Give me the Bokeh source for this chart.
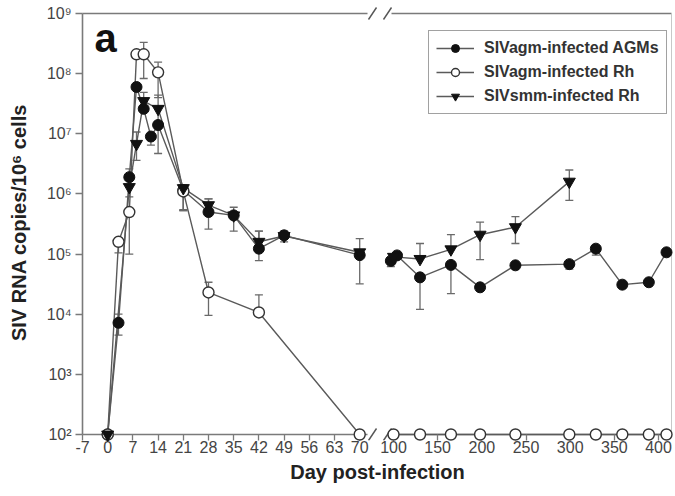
import numpy as np
from bokeh.plotting import figure
from bokeh.models import (ColumnDataSource, Range1d, FixedTicker, CustomJSTickFormatter,
                          Whisker, TeeHead, Legend, LegendItem, Label)
from bokeh.embed import file_html
from bokeh.resources import INLINE

# ---------------- data ----------------
x_ticks_left = [-7, 0, 7, 14, 21, 28, 35, 42, 49, 56, 63, 70]
x_ticks_right = [100, 150, 200, 250, 300, 350, 400]
y_ticks = [1e2, 1e3, 1e4, 1e5, 1e6, 1e7, 1e8, 1e9]

# SIVagm-infected AGMs (filled circles)
agm_day = [0, 3, 6, 8, 10, 12, 14, 21, 28, 35, 42, 49, 70,
           97, 104, 130, 165, 198, 238, 299, 329, 359, 389, 409]
agm_val = [1e2, 7.2e3, 1.9e6, 6.0e7, 2.6e7, 9.0e6, 1.4e7, 1.15e6, 5.0e5, 4.4e5, 1.23e5, 2.05e5, 9.6e4,
           7.7e4, 9.5e4, 4.1e4, 6.6e4, 2.8e4, 6.5e4, 6.8e4, 1.23e5, 3.1e4, 3.4e4, 1.07e5]
agm_hi = [1e2, 1.0e4, 2.6e6, 6.0e7, 2.6e7, 9.0e6, 1.4e7, 1.4e6, 8.3e5, 6.0e5, 2.4e5, 2.4e5, 1.8e5,
          7.7e4, 9.5e4, 4.1e4, 6.6e4, 2.8e4, 6.5e4, 6.8e4, 1.23e5, 3.1e4, 3.4e4, 1.07e5]
agm_lo = [1e2, 4.5e3, 8.9e5, 6.0e7, 2.6e7, 6.5e6, 4.7e6, 5.3e5, 2.6e5, 2.4e5, 7.8e4, 1.6e5, 3.2e4,
          6.2e4, 9.5e4, 1.2e4, 2.2e4, 2.8e4, 6.5e4, 5.6e4, 9.6e4, 2.7e4, 3.4e4, 1.07e5]

# SIVagm-infected Rh (open circles)
rh_day = [0, 3, 6, 8, 10, 14, 21, 28, 42, 70,
          100, 130, 165, 198, 238, 299, 329, 359, 389, 409]
rh_val = [1e2, 1.6e5, 5.0e5, 2.1e8, 2.1e8, 1.05e8, 1.1e6, 2.3e4, 1.07e4, 1e2,
          1e2, 1e2, 1e2, 1e2, 1e2, 1e2, 1e2, 1e2, 1e2, 1e2]
rh_hi = [1e2, 1.6e5, 5.0e5, 2.1e8, 3.3e8, 1.55e8, 1.1e6, 3.4e4, 2.1e4, 1e2,
         1e2, 1e2, 1e2, 1e2, 1e2, 1e2, 1e2, 1e2, 1e2, 1e2]
rh_lo = [1e2, 1.05e5, 1.0e5, 2.1e8, 8.3e7, 4.0e7, 5.5e5, 9.6e3, 1.07e4, 1e2,
         1e2, 1e2, 1e2, 1e2, 1e2, 1e2, 1e2, 1e2, 1e2, 1e2]

# SIVsmm-infected Rh (filled inverted triangles)
smm_day = [0, 6, 8, 10, 14, 21, 28, 35, 42, 49, 70,
           100, 130, 165, 198, 238, 299]
smm_val = [1e2, 1.3e6, 6.8e6, 3.5e7, 2.6e7, 1.25e6, 6.5e5, 4.4e5, 1.6e5, 2.0e5, 1.07e5,
           9.0e4, 8.3e4, 1.2e5, 2.1e5, 2.8e5, 1.6e6]
smm_hi = [1e2, 1.3e6, 1.07e7, 4.9e7, 4.4e7, 1.4e6, 8.3e5, 4.4e5, 2.4e5, 2.0e5, 1.07e5,
          9.0e4, 1.5e5, 2.1e5, 3.4e5, 4.2e5, 2.5e6]
smm_lo = [1e2, 1.3e6, 3.6e6, 3.5e7, 1.6e7, 5.3e5, 6.5e5, 4.4e5, 1.6e5, 2.0e5, 1.07e5,
          9.0e4, 8.3e4, 1.2e5, 8.1e4, 1.5e5, 7.8e5]

series_names = ["SIVagm-infected AGMs", "SIVagm-infected Rh", "SIVsmm-infected Rh"]

# ---------------- layout constants ----------------
W, H = 674, 495
ML, MR, MT, MB = 80, 0, 4, 55
FW = W - ML - MR                 # frame width (px)
K1, X0_PX = 3.6, 2.0             # left segment: px per day, first tick offset
K2, XR_PX = 0.8835, 313.0        # right segment: px per day, first right tick offset
DEC, TOP_PAD, BOT_PAD = 60.14, 9.0, 6.0
L_END, MARK1, MARK2, R_START, R_EDGE = 287.0, 292.0, 307.0, 311.0, 591.0
BREAK_DAY = 80

main_start = x_ticks_left[0] - X0_PX / K1
main_end = main_start + FW / K1
right_start = x_ticks_right[0] - XR_PX / K2
right_end = right_start + FW / K2


def px_main(px):
    return main_start + px / K1


ylo, yhi = y_ticks[0], y_ticks[-1]

p = figure(width=W, height=H, x_range=Range1d(main_start, main_end),
           y_range=Range1d(ylo * 10 ** (-BOT_PAD / DEC), yhi * 10 ** (TOP_PAD / DEC)),
           y_axis_type="log", output_backend="svg", toolbar_location=None,
           min_border_left=ML, min_border_right=MR, min_border_top=MT, min_border_bottom=MB)
p.extra_x_ranges = {"right": Range1d(right_start, right_end)}
p.outline_line_color = None
p.xgrid.visible = False
p.ygrid.visible = False
p.background_fill_color = "white"
p.border_fill_color = "white"

FONT = "Liberation Sans"
AX = "#7a7a7a"

# ---- x axis (one axis, broken) ----
right_pos = [main_start + (d - right_start) * K2 / K1 for d in x_ticks_right]
brk_pos = px_main((L_END + R_START) / 2)
p.xaxis.ticker = FixedTicker(ticks=x_ticks_left + right_pos, minor_ticks=[])
p.xaxis.formatter = CustomJSTickFormatter(
    args=dict(b=brk_pos, ms=main_start, rs=right_start, r=K1 / K2),
    code="""
    if (tick < b) { return Math.round(tick).toFixed(0); }
    return Math.round(rs + (tick - ms) * r).toFixed(0);
    """)
p.xaxis.axis_line_color = None
p.xaxis.major_tick_in = int(BOT_PAD)
p.xaxis.major_tick_out = 0
p.xaxis.major_tick_line_color = AX
p.xaxis.major_tick_line_width = 1.3
p.xaxis.major_label_standoff = 0
p.xaxis.major_label_text_font = FONT
p.xaxis.major_label_text_font_size = "16px"
p.xaxis.major_label_text_color = "#444444"
p.xaxis.axis_label = "Day post-infection"
p.xaxis.axis_label_text_font = FONT
p.xaxis.axis_label_text_font_style = "bold"
p.xaxis.axis_label_text_font_size = "20px"
p.xaxis.axis_label_text_color = "#222222"
p.xaxis.axis_label_standoff = 5

# ---- y axis ----
p.yaxis.ticker = FixedTicker(ticks=y_ticks, minor_ticks=[])
p.yaxis.formatter = CustomJSTickFormatter(code="""
    const s = ["\u2070","\u00b9","\u00b2","\u00b3","\u2074","\u2075","\u2076","\u2077","\u2078","\u2079"];
    const e = Math.round(Math.log10(tick));
    return "10" + s[e];
""")
p.yaxis.axis_line_color = None
p.yaxis.major_tick_in = int(X0_PX)
p.yaxis.major_tick_out = 5
p.yaxis.major_tick_line_color = AX
p.yaxis.major_tick_line_width = 1.3
p.yaxis.major_label_standoff = 4
p.yaxis.major_label_text_font = FONT
p.yaxis.major_label_text_font_size = "16px"
p.yaxis.major_label_text_color = "#444444"
p.yaxis.axis_label = "SIV RNA copies/10\u2076 cells"
p.yaxis.axis_label_text_font = FONT
p.yaxis.axis_label_text_font_style = "bold"
p.yaxis.axis_label_text_font_size = "20px"
p.yaxis.axis_label_text_color = "#222222"
p.yaxis.axis_label_standoff = 14

# ---- frame lines with break ----
x0 = x_ticks_left[0]
p.segment(x0=[x0], y0=[ylo], x1=[x0], y1=[yhi], line_color=AX, line_width=1.6)
p.segment(x0=[x0, x0], y0=[ylo, yhi], x1=[px_main(L_END)] * 2, y1=[ylo, yhi],
          line_color=AX, line_width=1.6)
p.segment(x0=[px_main(R_START)] * 2, y0=[ylo, yhi], x1=[px_main(R_EDGE)] * 2, y1=[ylo, yhi],
          line_color=AX, line_width=1.6)
p.segment(x0=[px_main(R_EDGE)], y0=[ylo], x1=[px_main(R_EDGE)], y1=[yhi],
          line_color="#c8c8c8", line_width=1)
mx0, mx1, my0, my1 = [], [], [], []
for m in (MARK1, MARK2):
    for yy in (ylo, yhi):
        mx0.append(px_main(m - 4)); mx1.append(px_main(m + 4))
        my0.append(yy * 10 ** (-6 / DEC)); my1.append(yy * 10 ** (6 / DEC))
p.segment(x0=mx0, y0=my0, x1=mx1, y1=my1, line_color="#555555", line_width=1.4)

# ---- series ----
LINE = "#5a5a5a"
ERR = "#6a6a6a"
styles = [
    dict(marker="circle", size=11, fill_color="#111111", line_color="#111111", line_width=1),
    dict(marker="circle", size=11, fill_color="white", line_color="#333333", line_width=1.4),
    dict(marker="inverted_triangle", size=12, fill_color="#111111", line_color="#111111", line_width=1),
]
data = [(agm_day, agm_val, agm_hi, agm_lo),
        (rh_day, rh_val, rh_hi, rh_lo),
        (smm_day, smm_val, smm_hi, smm_lo)]

items = []
for (day, val, hi, lo), st, name in zip(data, styles, series_names):
    day = np.array(day, float); val = np.array(val, float)
    hi = np.array(hi, float); lo = np.array(lo, float)
    legend_renderers = None
    for part, rng in (("left", "default"), ("right", "right")):
        m = day < BREAK_DAY if part == "left" else day >= BREAK_DAY
        if not m.any():
            continue
        src = ColumnDataSource(dict(day=day[m], val=val[m], hi=hi[m], lo=lo[m]))
        em = m & ((hi > val) | (lo < val))
        if em.any():
            esrc = ColumnDataSource(dict(day=day[em], hi=hi[em], lo=lo[em]))
            w = Whisker(source=esrc, base="day", upper="hi", lower="lo", dimension="height",
                        line_color=ERR, line_width=1.3, x_range_name=rng,
                        upper_head=TeeHead(size=8, line_color=ERR, line_width=1.3),
                        lower_head=TeeHead(size=8, line_color=ERR, line_width=1.3))
            p.add_layout(w)
        ln = p.line("day", "val", source=src, line_color=LINE, line_width=1.4, x_range_name=rng)
        sc = p.scatter("day", "val", source=src, x_range_name=rng, level="overlay", **st)
        if legend_renderers is None:
            legend_renderers = [ln, sc]
    items.append(LegendItem(label=name, renderers=legend_renderers))

legend = Legend(items=items, location=(348, 326), margin=0, padding=7, spacing=4,
                glyph_width=38, glyph_height=20, label_height=20, label_standoff=10,
                label_text_font=FONT, label_text_font_style="bold",
                label_text_font_size="16px", label_text_color="#333333",
                border_line_color="#444444", border_line_width=1.5,
                background_fill_color="white", background_fill_alpha=1.0)
p.add_layout(legend)

p.add_layout(Label(x=px_main(14), y=yhi * 10 ** (-24 / DEC), text="a",
                   text_font=FONT, text_font_style="bold", text_font_size="40px",
                   text_color="#111111", text_baseline="alphabetic"))

open("out.html", "w", encoding="utf-8").write(file_html(p, INLINE))
